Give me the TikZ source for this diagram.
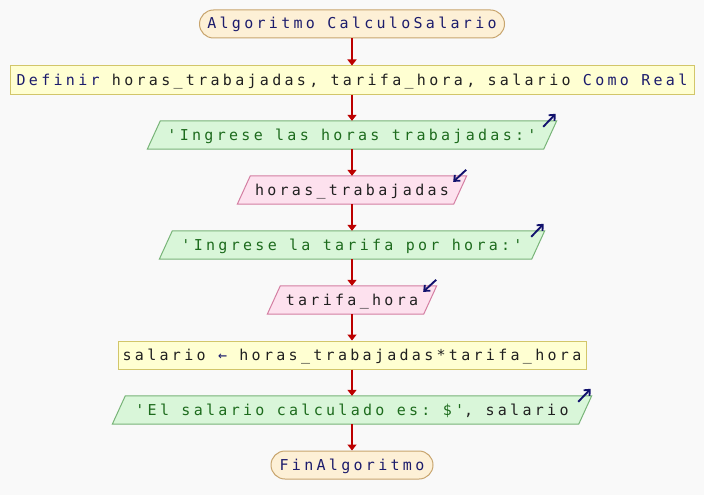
\documentclass[tikz,border=0pt]{standalone}
\usepackage{fontspec}
\setmonofont{DejaVu Sans Mono}[LetterSpace=22]
\usetikzlibrary{arrows.meta,calc,backgrounds}
\definecolor{bgc}{HTML}{F9F9F9}
\definecolor{termf}{HTML}{FDF0D6}
\definecolor{termb}{HTML}{C8A56E}
\definecolor{procf}{HTML}{FFFFD2}
\definecolor{procb}{HTML}{D2C66A}
\definecolor{outf}{HTML}{D9F6D9}
\definecolor{outb}{HTML}{78B478}
\definecolor{inf}{HTML}{FDE1EE}
\definecolor{inb}{HTML}{D47EA2}
\definecolor{arrc}{HTML}{BC0000}
\definecolor{iconc}{HTML}{12126E}
\definecolor{kwc}{HTML}{1C1C6C}
\definecolor{strc}{HTML}{1D6B1D}
\definecolor{varc}{HTML}{202020}
\newcommand\pkw[1]{\textcolor{kwc}{#1}}
\newcommand\pstr[1]{\textcolor{strc}{#1}}
\newcommand\pvar[1]{\textcolor{varc}{#1}}
\newcommand\pseio[3]{% name, fill, border
  \begin{pgfonlayer}{background}
  \path[fill=#2,draw=#3,line width=1pt]
    ($(#1.north west)+(6.5,0)$) -- ($(#1.north east)+(6.5,0)$) --
    ($(#1.south east)+(-6.5,0)$) -- ($(#1.south west)+(-6.5,0)$) -- cycle;
  \end{pgfonlayer}}
\tikzset{
  base/.style={minimum height=28pt,inner sep=0pt,text height=12pt,text depth=2pt,font=\ttfamily\fontsize{15}{15}\selectfont},
  term/.style={base,rounded corners=14pt,draw=termb,fill=termf,line width=1pt},
  proc/.style={base,draw=procb,fill=procf,line width=1pt},
  iobox/.style={base},
  flow/.style={draw=arrc,line width=2pt,-{Triangle[width=9pt,length=6pt]}},
  icon/.style={draw=iconc,line width=1.9pt,-{Straight Barb[width=8pt,length=4.5pt]}}
}
\begin{document}
\begin{tikzpicture}[x=1pt,y=-1pt]
\begin{pgfonlayer}{background}
\fill[bgc] (0,0) rectangle (704,495);
\end{pgfonlayer}
\useasboundingbox (0,0) rectangle (704,495);
\node[term,minimum width=305pt] (start) at (352,24) {\pkw{Algoritmo CalculoSalario}};
\node[proc,minimum width=684pt] (def) at (352,80) {\pkw{Definir} \pvar{horas\_trabajadas, tarifa\_hora, salario} \pkw{Como Real}};
\node[iobox,minimum width=396pt] (o1) at (352,135) {\pstr{'Ingrese las horas trabajadas:'}};
\node[iobox,minimum width=216pt] (i1) at (352,190) {\pvar{horas\_trabajadas}};
\node[iobox,minimum width=372pt] (o2) at (352,245) {\pstr{'Ingrese la tarifa por hora:'}};
\node[iobox,minimum width=156pt] (i2) at (352,300) {\pvar{tarifa\_hora}};
\node[proc,minimum width=468pt] (calc) at (352,355) {\pvar{salario} \pkw{←} \pvar{horas\_trabajadas*tarifa\_hora}};
\node[iobox,minimum width=466pt] (o3) at (352,410) {\pstr{'El salario calculado es: \$'}\pvar{, salario}};
\node[term,minimum width=162pt] (fin) at (352,465) {\pkw{FinAlgoritmo}};
\pseio{o1}{outf}{outb}
\pseio{o2}{outf}{outb}
\pseio{o3}{outf}{outb}
\pseio{i1}{inf}{inb}
\pseio{i2}{inf}{inb}
\foreach \a/\b in {start/def,def/o1,o1/i1,i1/o2,o2/i2,i2/calc,calc/o3,o3/fin}
  \draw[flow] (\a.south) -- (\b.north);
\draw[icon] ($(o1.north east)+(-7,6)$) -- ($(o1.north east)+(5.5,-7)$);
\draw[icon] ($(o2.north east)+(-7,6)$) -- ($(o2.north east)+(5.5,-7)$);
\draw[icon] ($(o3.north east)+(-7,6)$) -- ($(o3.north east)+(5.5,-7)$);
\draw[icon] ($(i1.north east)+(6,-6)$) -- ($(i1.north east)+(-7,6)$);
\draw[icon] ($(i2.north east)+(6,-6)$) -- ($(i2.north east)+(-7,6)$);
\end{tikzpicture}
\end{document}
